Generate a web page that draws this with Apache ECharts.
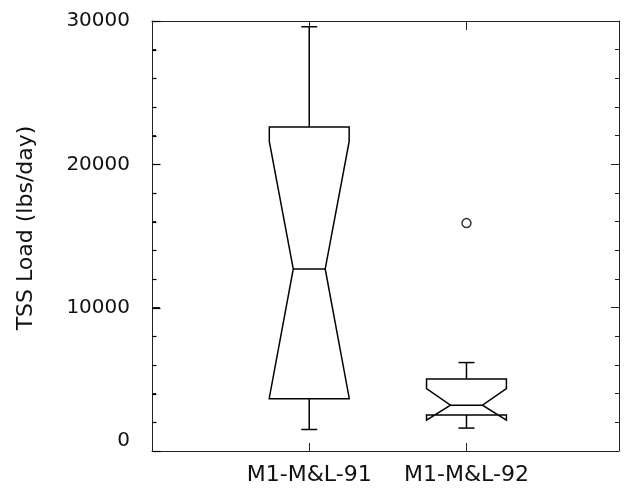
<!DOCTYPE html>
<html><head><meta charset="utf-8">
<script src="https://cdn.jsdelivr.net/npm/echarts@6/dist/echarts.min.js"></script>
<style>html,body{margin:0;padding:0;background:#fff}#c{width:629px;height:491px}</style>
</head><body><div id="c"></div>
<script>
const categories = ['M1-M&L-91', 'M1-M&L-92'];
const whiskerLow = [1500, 1600];
const q1 = [3640, 2520];
const median = [12700, 3200];
const q3 = [22600, 5030];
const whiskerHigh = [29600, 6170];
const notchLow = [3700, 2150];
const notchHigh = [21600, 4350];
const outliers = [[2, 15900]];
const yTicks = [0, 10000, 20000, 30000];
const yMinorTicks = [2000, 4000, 6000, 8000, 12000, 14000, 16000, 18000, 22000, 24000, 26000, 28000];

const boxData = categories.map((c, i) => [i + 1, whiskerLow[i], q1[i], median[i], q3[i], whiskerHigh[i], notchLow[i], notchHigh[i]]);
const FONT = 'DejaVu Sans';
const INK = '#111';
const AX = '#222';

function renderBox(params, api) {
  const x = api.value(0);
  const half = api.size([1, 0])[0] * 0.254;
  const cx = api.coord([x, 0])[0];
  const Y = v => api.coord([x, v])[1];
  const yWL = Y(api.value(1)), yQ1 = Y(api.value(2)), yMed = Y(api.value(3)),
        yQ3 = Y(api.value(4)), yWH = Y(api.value(5)), yNL = Y(api.value(6)), yNH = Y(api.value(7));
  const L = cx - half, R = cx + half, nIn = half * 0.4, cap = half * 0.2;
  const style = { stroke: '#000', lineWidth: 1.5, fill: 'none' };
  return {
    type: 'group',
    children: [
      { type: 'polygon', shape: { points: [[L, yQ3], [R, yQ3], [R, yNH], [cx + nIn, yMed], [R, yNL], [R, yQ1], [L, yQ1], [L, yNL], [cx - nIn, yMed], [L, yNH]] }, style },
      { type: 'line', shape: { x1: cx - nIn, y1: yMed, x2: cx + nIn, y2: yMed }, style },
      { type: 'line', shape: { x1: cx, y1: yQ3, x2: cx, y2: yWH }, style },
      { type: 'line', shape: { x1: cx - cap, y1: yWH, x2: cx + cap, y2: yWH }, style },
      { type: 'line', shape: { x1: cx, y1: yQ1, x2: cx, y2: yWL }, style },
      { type: 'line', shape: { x1: cx - cap, y1: yWL, x2: cx + cap, y2: yWL }, style }
    ]
  };
}

function yBase(pos) {
  return {
    type: 'value', min: 0, max: 30000, interval: 10000, position: pos,
    axisLine: { show: true, onZero: false, lineStyle: { color: AX, width: 1 } },
    axisTick: { show: true, inside: true, length: 8, lineStyle: { color: AX, width: 1 } },
    minorTick: { show: true, splitNumber: 5, length: 4, lineStyle: { color: AX, width: 1 } },
    splitLine: { show: false },
    axisLabel: { show: false }
  };
}
const yLeft = yBase('left');
yLeft.axisLabel = {
  show: true, margin: 22, fontSize: 20, fontFamily: FONT, color: INK,
  verticalAlignMinLabel: 'bottom',
  formatter: v => yTicks.includes(v) ? String(v) : ''
};
yLeft.name = 'TSS Load (lbs/day)';
yLeft.nameLocation = 'middle';
yLeft.nameGap = 115;
yLeft.nameTextStyle = { fontSize: 22, fontFamily: FONT, color: INK, padding: [0, 0, 0, 16] };
const yRight = yBase('right');

function xAxisDef(pos, withLabels, tickLen) {
  const ax = {
    type: 'value', min: 0, max: 2.97, interval: 1, position: pos,
    axisLine: { show: true, onZero: false, lineStyle: { color: AX, width: 1 } },
    axisTick: { show: true, inside: true, length: tickLen, lineStyle: { color: AX, width: 1 } },
    splitLine: { show: false },
    axisLabel: { show: false }
  };
  if (withLabels) {
    ax.axisLabel = {
      show: true, margin: 13, fontSize: 22, fontFamily: FONT, color: INK,
      showMaxLabel: false, showMinLabel: false,
      formatter: v => categories[Math.round(v) - 1] || ''
    };
  }
  return ax;
}

const chart = echarts.init(document.getElementById('c'), null, { renderer: 'canvas' });
chart.setOption({
  animation: false,
  backgroundColor: '#fff',
  grid: { left: 152, right: 10, top: 21, bottom: 40, containLabel: false },
  xAxis: [xAxisDef('bottom', true, 8), xAxisDef('top', false, 9)],
  yAxis: [yLeft, yRight],
  series: [
    {
      type: 'custom', xAxisIndex: 0, yAxisIndex: 0,
      renderItem: renderBox, data: boxData, silent: true,
      encode: { x: 0, y: [1, 2, 3, 4, 5, 6, 7] }
    },
    {
      type: 'scatter', xAxisIndex: 0, yAxisIndex: 0,
      data: outliers, symbol: 'circle', symbolSize: 9, silent: true,
      itemStyle: { color: '#fff', borderColor: '#000', borderWidth: 1.5 }
    }
  ]
});

// inward ticks along the left frame edge, positioned through the axis scales
const leftX = Math.round(chart.convertToPixel({ xAxisIndex: 0 }, 0)) + 0.5;
const tickEls = [];
function addTick(v, len) {
  const y = Math.round(chart.convertToPixel({ yAxisIndex: 0 }, v)) + 0.5;
  tickEls.push({
    type: 'line', silent: true, z: 100,
    shape: { x1: leftX, y1: y, x2: leftX + len, y2: y },
    style: { stroke: '#000', lineWidth: 1.2 }
  });
}
yTicks.forEach(v => addTick(v, 8));
yMinorTicks.forEach(v => addTick(v, 4));
chart.setOption({ graphic: { elements: tickEls } });
</script></body></html>
